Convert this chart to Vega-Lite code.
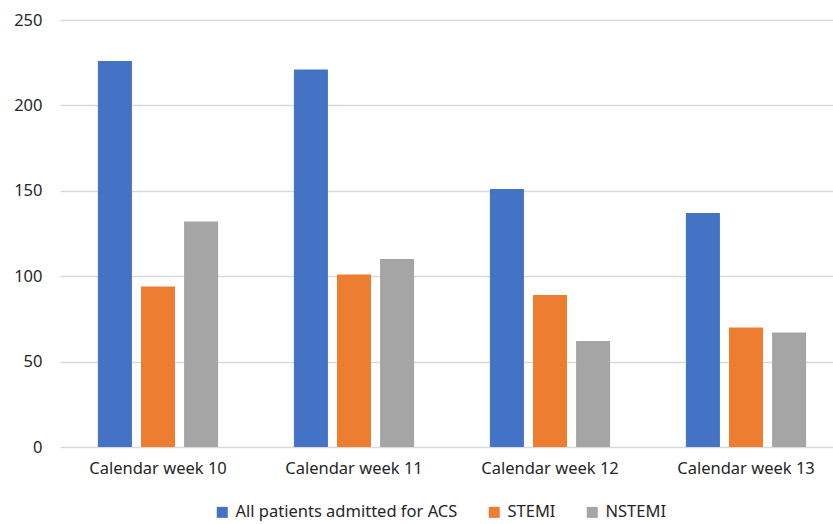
{
  "$schema": "https://vega.github.io/schema/vega-lite/v6.json",
  "autosize": "none",
  "width": 773,
  "height": 427,
  "padding": {"left": 60, "top": 20, "right": 0, "bottom": 77},
  "background": "white",
  "data": {
    "values": [
      {"week": "Calendar week 10", "group": "All patients admitted for ACS", "count": 226},
      {"week": "Calendar week 10", "group": "STEMI", "count": 94},
      {"week": "Calendar week 10", "group": "NSTEMI", "count": 132},
      {"week": "Calendar week 11", "group": "All patients admitted for ACS", "count": 221},
      {"week": "Calendar week 11", "group": "STEMI", "count": 101},
      {"week": "Calendar week 11", "group": "NSTEMI", "count": 110},
      {"week": "Calendar week 12", "group": "All patients admitted for ACS", "count": 151},
      {"week": "Calendar week 12", "group": "STEMI", "count": 89},
      {"week": "Calendar week 12", "group": "NSTEMI", "count": 62},
      {"week": "Calendar week 13", "group": "All patients admitted for ACS", "count": 137},
      {"week": "Calendar week 13", "group": "STEMI", "count": 70},
      {"week": "Calendar week 13", "group": "NSTEMI", "count": 67}
    ]
  },
  "config": {
    "font": "Noto Sans",
    "view": {"stroke": null}
  },
  "mark": {"type": "bar"},
  "encoding": {
    "x": {
      "field": "week",
      "type": "nominal",
      "scale": {"paddingInner": 0, "paddingOuter": 0, "range": [0, 784]},
      "axis": {
        "title": null,
        "labelAngle": 0,
        "labelFontSize": 16.5,
        "labelColor": "#262626",
        "labelPadding": 13,
        "ticks": false,
        "domain": false,
        "grid": false
      }
    },
    "xOffset": {
      "field": "group",
      "type": "nominal",
      "sort": ["All patients admitted for ACS", "STEMI", "NSTEMI"],
      "scale": {"paddingInner": 0.21, "paddingOuter": 0.88}
    },
    "y": {
      "field": "count",
      "type": "quantitative",
      "scale": {"domain": [0, 250]},
      "axis": {
        "title": null,
        "values": [0, 50, 100, 150, 200, 250],
        "labelFontSize": 16.5,
        "labelColor": "#262626",
        "labelPadding": 18,
        "ticks": false,
        "domain": false,
        "gridColor": "#d9d9d9",
        "gridWidth": 1.3
      }
    },
    "color": {
      "field": "group",
      "type": "nominal",
      "sort": ["All patients admitted for ACS", "STEMI", "NSTEMI"],
      "scale": {
        "domain": ["All patients admitted for ACS", "STEMI", "NSTEMI"],
        "range": ["#4472C4", "#ED7D31", "#A5A5A5"]
      },
      "legend": {
        "title": null,
        "orient": "none",
        "direction": "horizontal",
        "legendX": 154,
        "legendY": 484,
        "symbolType": "square",
        "symbolSize": 121,
        "symbolStrokeWidth": 0,
        "labelFontSize": 16.5,
        "labelLimit": 400,
        "labelColor": "#262626",
        "labelOffset": 5,
        "columnPadding": 28
      }
    }
  }
}
